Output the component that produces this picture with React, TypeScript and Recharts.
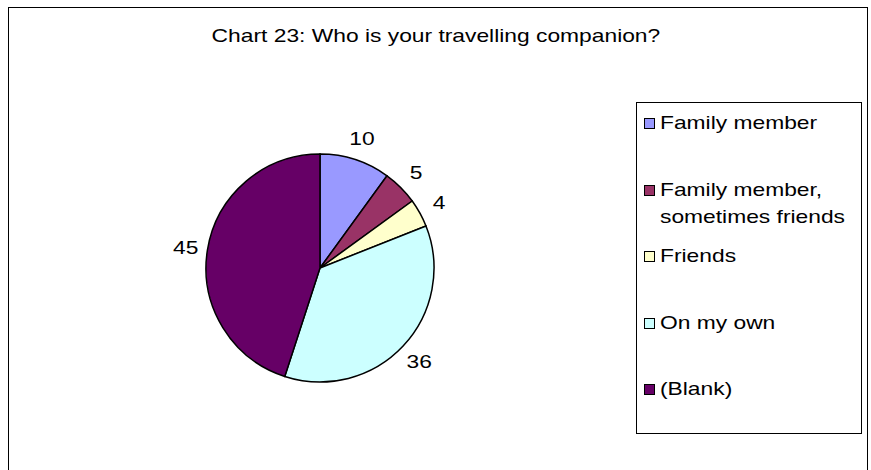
import React from "react";
import { PieChart, Pie, Cell, Legend } from "recharts";

const categories = [
  "Family member",
  "Family member, sometimes friends",
  "Friends",
  "On my own",
  "(Blank)",
];
const counts = [10, 5, 4, 36, 45];
const legendLines = [
  ["Family member"],
  ["Family member,", "sometimes friends"],
  ["Friends"],
  ["On my own"],
  ["(Blank)"],
];
const COLORS = ["#9999FF", "#993366", "#FFFFCC", "#CCFFFF", "#660066"];

const data = categories.map((name, i) => ({ name, value: counts[i] }));

const FONT = "'Liberation Sans', Arial, sans-serif";
const STRETCH = 1.2;
const RAD = Math.PI / 180;

function renderLabel(props: any) {
  const { cx, cy, midAngle, outerRadius, value } = props;
  const r = outerRadius + 22;
  const x = cx + r * Math.cos(-midAngle * RAD);
  const y = cy + r * Math.sin(-midAngle * RAD);
  return (
    <text
      transform={`translate(${x},${y}) scale(${STRETCH},1)`}
      textAnchor="middle"
      dominantBaseline="central"
      fontFamily={FONT}
      fontSize={19}
      fill="#000"
    >
      {value}
    </text>
  );
}

function LegendBox() {
  return (
    <div
      style={{
        width: 224,
        height: 330,
        border: "1px solid #000",
        background: "#fff",
        boxSizing: "content-box",
        position: "relative",
        fontFamily: FONT,
        fontSize: 19,
        color: "#000",
      }}
    >
      {legendLines.map((lines, i) => (
        <div
          key={i}
          style={{ position: "absolute", left: 7, top: 8 + i * 66.5 }}
        >
          <span
            style={{
              position: "absolute",
              left: 0,
              top: 7,
              width: 9,
              height: 9,
              border: "1px solid #000",
              background: COLORS[i],
            }}
          />
          {lines.map((t, j) => (
            <div
              key={j}
              style={{
                position: "absolute",
                left: 16,
                top: j * 27,
                whiteSpace: "nowrap",
                lineHeight: "24px",
                transform: `scaleX(${STRETCH})`,
                transformOrigin: "left center",
              }}
            >
              {t}
            </div>
          ))}
        </div>
      ))}
    </div>
  );
}

export default function App() {
  return (
    <div style={{ position: "absolute", left: 0, top: 0, width: 871, height: 470, overflow: "hidden", background: "#fff" }}>
      <div
        style={{
          position: "absolute",
          left: 8,
          top: 7,
          width: 858,
          height: 480,
          border: "1px solid #000",
        }}
      />
      <div
        style={{
          position: "absolute",
          left: 0,
          width: 871,
          top: 24,
          textAlign: "center",
          fontFamily: FONT,
          fontSize: 19,
          lineHeight: "24px",
        }}
      >
        <span
          style={{
            display: "inline-block",
            transform: `scaleX(${STRETCH})`,
          }}
        >
          Chart 23: Who is your travelling companion?
        </span>
      </div>
      <div style={{ position: "absolute", left: 0, top: 0 }}>
        <PieChart width={871} height={470}>
          <Pie
            data={data}
            dataKey="value"
            nameKey="name"
            cx={315}
            cy={263}
            outerRadius={114}
            startAngle={90}
            endAngle={-270}
            stroke="#000"
            strokeWidth={1.5}
            label={renderLabel}
            labelLine={false}
            isAnimationActive={false}
          >
            {data.map((d, i) => (
              <Cell key={d.name} fill={COLORS[i]} />
            ))}
          </Pie>
          <Legend
            layout="vertical"
            content={() => <LegendBox />}
            wrapperStyle={{ position: "absolute", left: 636, top: 102, width: 226, height: 332 }}
          />
        </PieChart>
      </div>
    </div>
  );
}
